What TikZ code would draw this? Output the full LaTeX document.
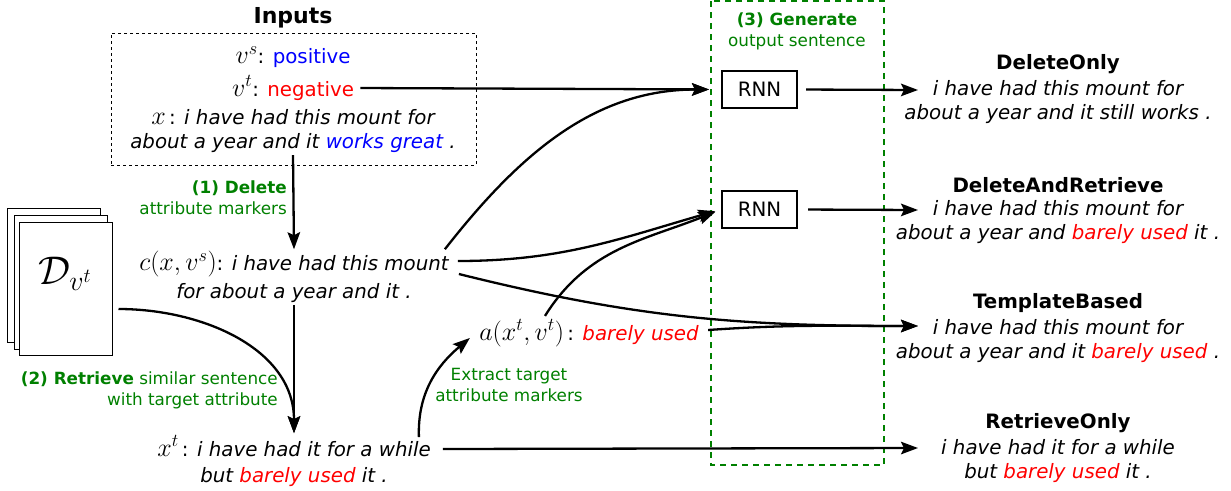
\documentclass[tikz,border=0pt]{standalone}
\usepackage{fix-cm}
\usepackage{fontspec}
\setmainfont{DejaVu Sans}
\usetikzlibrary{arrows.meta}
\definecolor{stepgreen}{RGB}{0,128,0}
\newcommand{\mvar}[1]{{\fontsize{26}{24.5}\selectfont$#1$}}

\begin{document}
\begin{tikzpicture}[x=1pt, y=-1pt,
    font=\fontsize{19.8}{24.5}\selectfont,
    arr/.style={-{Stealth[length=17pt,width=12.5pt,inset=3pt]}, line width=2.3pt},
    rnn/.style={draw, line width=2pt, minimum width=75pt, minimum height=37pt, inner sep=0pt},
    sent/.style={align=center, inner sep=2pt},
    lbl/.style={text=stepgreen, font=\fontsize{16.8}{21}\selectfont, inner sep=1pt},
    head/.style={font=\fontsize{19.8}{24.5}\selectfont\bfseries, inner sep=1pt}]
  \useasboundingbox (0,0) rectangle (1231,490);

  \node[head, font=\fontsize{22}{26}\selectfont\bfseries] (inputs) at (293,18) {Inputs};
  \node[draw, dashed, line width=1pt, minimum width=365pt, minimum height=132pt] (inbox) at (293.5,99) {};
  \node (vs) at (293,57) {\mvar{v^s}: \textcolor{blue}{positive}};
  \node (vt) at (293,88) {\mvar{v^t}: \textcolor{red}{negative}};
  \node[sent] (x) at (293,131) {\mvar{x}\,: \itshape i have had this mount for\\ \itshape about a year and it \textcolor{blue}{works great} .};

  \node[lbl, anchor=east, align=right] (del) at (288,198) {\textbf{(1) Delete}\\attribute markers};
  \node[sent] (c) at (294,277) {\mvar{c(x,v^s)}: \itshape i have had this mount\\[3pt] \itshape for about a year and it .};

  \foreach \dx/\dy in {0/0, 7/7} {
    \draw[fill=white, line width=1pt] (7+\dx,208+\dy) rectangle ++(93,134);
  }
  \node[draw, fill=white, line width=1pt, minimum width=93pt, minimum height=133pt, inner sep=0pt] (docs) at (65.5,288.5) {};
  \node[font=\fontsize{40}{44}\selectfont] (dset) at (65,274) {$\mathcal{D}_{v^t}$};

  \node[lbl, anchor=east, align=right] (ret) at (279,390) {\textbf{(2) Retrieve} similar sentence\\with target attribute};
  \node[sent] (xt) at (294,461) {\mvar{x^t}\,: \itshape i have had it for a while\\[2pt] \itshape but \textcolor{red}{barely used} it .};

  \node (a) at (589,333) {\mvar{a(x^t,v^t)}\,: \textit{\textcolor{red}{barely used}}};
  \node[lbl, align=center] (ext) at (509,385) {Extract target\\attribute markers};

  \draw[stepgreen, dash pattern=on 6pt off 5pt, line width=1.8pt] (711,1) rectangle (884,465);
  \node[lbl, align=center] (gen) at (797,31) {\textbf{(3) Generate}\\output sentence};
  \node[rnn] (rnn1) at (759.5,89.5) {RNN};
  \node[rnn] (rnn2) at (759.5,209.5) {RNN};

  \node[head] (do) at (1058,64) {DeleteOnly};
  \node[sent] (do-s) at (1058,102) {\itshape i have had this mount for\\ \itshape about a year and it still works .};
  \node[head] (dr) at (1058,185) {DeleteAndRetrieve};
  \node[sent] (dr-s) at (1058,222) {\itshape i have had this mount for\\ \itshape about a year and \textcolor{red}{barely used} it .};
  \node[head] (tb) at (1058,303) {TemplateBased};
  \node[sent] (tb-s) at (1058,341) {\itshape i have had this mount for\\ \itshape about a year and it \textcolor{red}{barely used} .};
  \node[head] (ro) at (1058,423) {RetrieveOnly};
  \node[sent] (ro-s) at (1058,461) {\itshape i have had it for a while\\ \itshape but \textcolor{red}{barely used} it .};
  \coordinate (do-in) at (918,90);
  \coordinate (dr-in) at (918,210);
  \coordinate (tb-in) at (918,326);
  \coordinate (ro-in) at (918,448);

  \draw[arr, shorten <=3pt, shorten >=12pt] (vt.east) -- (rnn1.west);
  \draw[arr, shorten <=8pt] (rnn1.east) -- (do-in);
  \draw[arr, shorten <=10pt] (rnn2.east) -- (dr-in);
  \draw[arr] (x.south) -- (c.north);
  \draw[arr] (c.south) -- (xt.north);
  \draw[arr] ([xshift=6pt,yshift=-20.5pt]docs.east) to[out=0,in=90] (xt.north);
  \draw[arr, shorten >=12pt] ([xshift=-6pt]c.north east) to[out=52,in=180] (rnn1.west);
  \draw[arr, shorten >=6pt] ([xshift=7pt,yshift=16pt]c.east) to[out=0,in=196] (rnn2.west);
  \draw[arr] ([xshift=8pt,yshift=3pt]c.east) to[out=-14,in=180] (tb-in);
  \draw[arr, shorten >=6pt] ([xshift=-44pt]a.north) to[out=58,in=202] (rnn2.west);
  \draw[arr] ([xshift=6pt,yshift=3pt]a.east) to[out=4,in=180] (tb-in);
  \draw[arr] ([xshift=-14pt,yshift=-4pt]xt.north east) to[out=92,in=220] ([xshift=-6pt,yshift=-5pt]a.west);
  \draw[arr] ([xshift=10pt,yshift=12pt]xt.east) -- (ro-in);
\end{tikzpicture}
\end{document}
